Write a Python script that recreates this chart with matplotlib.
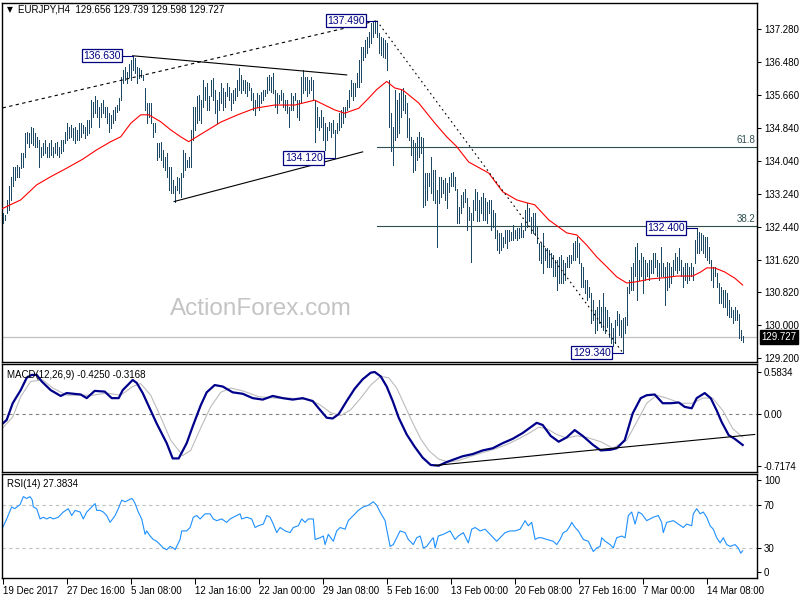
import matplotlib
matplotlib.use('Agg')
import matplotlib.pyplot as plt
import matplotlib.transforms as mtransforms
import numpy as np

plt.rcParams['font.family'] = ['Liberation Sans', 'DejaVu Sans']

# -- datos: EURJPY H4 (maximos y minimos por barra)
highs = [
    132.76, 132.72, 133.09, 133.42, 133.66, 133.91, 133.91, 133.95, 133.91, 134.23,
    134.23, 134.73, 134.77, 134.73, 134.89, 134.85, 134.73, 134.64, 134.56, 134.40,
    134.48, 134.56, 134.40, 134.48, 134.56, 134.40, 134.48, 134.52, 134.40, 134.56,
    134.56, 134.77, 134.97, 134.89, 134.93, 134.85, 134.89, 134.81, 134.97, 134.97,
    134.93, 134.89, 135.05, 135.05, 135.54, 135.50, 135.63, 135.54, 135.38, 135.46,
    135.54, 135.38, 135.38, 135.22, 135.18, 135.30, 135.38, 135.42, 135.59, 136.12,
    136.28, 136.36, 136.24, 136.44, 136.53, 136.63, 136.57, 136.36, 136.32, 136.28,
    136.16, 135.83, 135.46, 135.46, 135.46, 134.97, 134.97, 134.48, 134.48, 134.52,
    134.32, 134.15, 134.23, 133.91, 133.91, 133.58, 133.42, 133.66, 133.62, 133.74,
    134.32, 134.23, 134.07, 134.15, 134.81, 135.38, 135.38, 135.63, 135.67, 135.54,
    136.04, 135.87, 135.95, 135.63, 136.04, 136.08, 135.79, 135.54, 135.75, 135.95,
    135.83, 135.75, 135.95, 135.87, 135.71, 135.79, 135.83, 136.04, 136.32, 136.16,
    136.04, 136.04, 135.99, 135.95, 135.83, 135.71, 135.54, 135.71, 135.67, 135.75,
    135.79, 135.79, 136.12, 136.16, 136.12, 136.20, 135.79, 135.71, 135.67, 135.79,
    135.71, 135.54, 135.54, 135.38, 135.71, 135.63, 135.71, 135.54, 135.54, 136.12,
    136.28, 136.12, 136.12, 136.04, 136.12, 136.04, 135.54, 135.38, 135.13, 135.30,
    135.13, 134.97, 134.89, 135.01, 134.97, 135.05, 134.81, 134.97, 135.22, 135.30,
    135.38, 135.38, 135.54, 135.79, 136.04, 135.95, 135.95, 136.20, 136.53, 136.85,
    136.85, 137.02, 137.10, 137.22, 137.43, 137.45, 137.47, 137.49, 137.18, 137.10,
    137.06, 137.02, 136.94, 136.04, 135.22, 134.89, 135.79, 135.54, 135.71, 135.79,
    135.83, 135.67, 135.46, 135.09, 134.64, 134.56, 134.48, 134.64, 134.77, 134.64,
    134.60, 133.74, 133.74, 133.74, 134.15, 133.83, 133.83, 133.33, 133.66, 133.66,
    133.58, 133.62, 133.50, 133.66, 133.74, 133.78, 133.66, 133.37, 132.92, 133.21,
    133.29, 133.37, 133.13, 132.92, 132.76, 133.09, 133.37, 133.29, 133.09, 133.17,
    133.25, 133.13, 133.05, 133.09, 133.09, 132.84, 132.76, 132.35, 132.27, 132.27,
    132.19, 132.35, 132.35, 132.35, 132.31, 132.47, 132.35, 132.39, 132.39, 132.52,
    132.35, 132.84, 133.01, 132.88, 132.68, 132.76, 132.76, 132.43, 132.02, 132.02,
    132.27, 131.90, 131.90, 131.86, 131.78, 131.74, 131.61, 131.61, 131.70, 131.74,
    131.61, 131.53, 131.70, 131.74, 131.74, 132.02, 132.07, 132.19, 132.02, 131.53,
    131.45, 131.12, 131.12, 130.96, 130.80, 130.63, 130.39, 130.47, 130.63, 130.47,
    130.80, 130.47, 130.39, 130.22, 130.06, 129.94, 130.14, 130.35, 130.30, 130.14,
    130.18, 130.22, 130.96, 131.12, 131.45, 131.53, 131.94, 132.02, 131.61, 131.78,
    131.70, 131.61, 131.53, 131.61, 131.61, 131.78, 131.78, 131.61, 131.53, 131.94,
    131.53, 131.45, 131.57, 131.53, 131.45, 131.61, 131.78, 131.70, 131.90, 131.61,
    131.45, 131.53, 131.53, 131.45, 131.53, 131.45, 132.11, 132.40, 132.31, 132.27,
    132.23, 132.19, 132.19, 131.94, 131.61, 131.45, 131.45, 131.29, 131.04, 130.96,
    130.88, 130.88, 130.80, 130.63, 130.47, 130.39, 130.47, 130.39, 130.30, 129.90, 129.739,
]
lows = [
    132.53, 132.60, 132.76, 132.84, 133.09, 133.42, 133.58, 133.66, 133.66, 133.87,
    133.91, 134.15, 134.48, 134.40, 134.48, 134.44, 134.40, 134.40, 133.91, 134.15,
    134.19, 134.23, 134.15, 134.15, 134.19, 134.15, 134.23, 134.19, 134.15, 134.23,
    134.28, 134.48, 134.56, 134.60, 134.64, 134.56, 134.48, 134.56, 134.56, 134.64,
    134.73, 134.60, 134.68, 134.73, 134.89, 135.13, 135.22, 135.13, 134.89, 135.13,
    135.22, 135.13, 134.97, 134.77, 134.85, 134.97, 135.05, 135.26, 135.30, 135.54,
    135.95, 136.04, 135.95, 136.12, 136.04, 136.28, 136.20, 135.95, 136.08, 136.12,
    136.04, 135.30, 134.97, 135.13, 134.97, 134.64, 134.77, 134.07, 134.15, 134.07,
    133.91, 133.83, 133.66, 133.33, 133.25, 133.25, 133.05, 133.33, 133.25, 133.17,
    133.66, 133.83, 133.91, 133.91, 133.91, 134.56, 134.81, 134.97, 135.05, 134.97,
    135.38, 135.54, 135.30, 135.30, 135.63, 135.54, 135.22, 134.97, 135.30, 135.46,
    135.30, 135.38, 135.63, 135.54, 135.30, 135.46, 135.54, 135.63, 135.79, 135.71,
    135.79, 135.71, 135.63, 135.79, 135.54, 135.30, 135.18, 135.38, 135.30, 135.46,
    135.54, 135.63, 135.71, 135.79, 135.75, 135.71, 135.38, 135.22, 135.46, 135.54,
    135.38, 135.30, 135.22, 134.89, 135.30, 135.30, 135.54, 135.13, 135.05, 135.46,
    135.71, 135.79, 135.63, 135.71, 135.79, 135.54, 134.52, 134.89, 134.81, 134.89,
    134.56, 134.32, 134.56, 134.81, 134.64, 134.73, 134.12, 134.73, 134.81, 134.89,
    134.97, 135.13, 135.30, 135.38, 135.63, 135.54, 135.63, 135.87, 135.87, 135.99,
    136.53, 136.61, 136.69, 136.85, 136.94, 137.10, 137.18, 137.10, 136.69, 136.65,
    136.61, 136.57, 136.28, 134.89, 134.28, 133.95, 134.56, 134.64, 134.73, 135.13,
    135.30, 135.22, 134.64, 134.56, 134.19, 133.78, 133.83, 134.07, 134.15, 134.23,
    132.92, 132.97, 133.09, 133.42, 133.25, 133.09, 133.01, 131.94, 133.01, 133.17,
    133.25, 133.09, 132.88, 133.29, 133.42, 133.42, 133.33, 132.52, 132.52, 132.76,
    132.92, 133.05, 132.35, 132.60, 131.57, 132.60, 132.84, 132.56, 132.56, 132.76,
    132.60, 132.60, 132.52, 132.76, 132.35, 132.43, 132.15, 131.86, 131.78, 131.86,
    131.94, 132.02, 131.90, 132.07, 132.11, 132.11, 132.15, 132.11, 132.15, 132.19,
    132.19, 132.35, 132.43, 132.56, 132.27, 132.27, 132.23, 132.02, 131.61, 131.53,
    131.29, 131.61, 131.45, 131.45, 131.45, 131.21, 131.21, 130.88, 131.04, 131.04,
    131.04, 131.12, 131.45, 131.45, 131.53, 131.61, 131.61, 131.70, 131.53, 130.96,
    130.96, 130.80, 130.63, 130.71, 130.06, 130.14, 129.81, 129.90, 130.06, 129.98,
    129.90, 129.81, 129.98, 129.73, 129.57, 129.49, 129.57, 130.02, 129.77, 129.73,
    129.34, 129.81, 130.02, 130.80, 130.88, 130.88, 131.21, 130.63, 131.12, 131.21,
    130.80, 131.12, 131.21, 131.12, 131.29, 131.29, 131.45, 131.21, 131.12, 131.21,
    131.21, 130.51, 130.88, 130.96, 131.04, 131.21, 131.37, 131.29, 131.37, 131.21,
    130.96, 131.12, 131.04, 131.12, 131.21, 131.12, 131.53, 131.78, 131.78, 131.86,
    131.78, 131.70, 131.61, 131.53, 131.12, 130.96, 131.21, 130.96, 130.55, 130.55,
    130.47, 130.47, 130.26, 130.22, 130.22, 130.06, 130.14, 130.14, 129.69, 129.65, 129.598,
]

# media movil (rojo), puntos leidos (barra, precio)
ma_x = [0, 9, 17, 24, 32, 40, 47, 54, 59, 64, 69, 73, 79, 84, 89, 93, 101, 109, 117,
        126, 136, 146, 156, 161, 166, 171, 178, 183, 187, 192, 196, 200, 208, 216, 222,
        227, 233, 243, 250, 257, 262, 266, 273, 282, 287, 292, 297, 302, 307, 312, 317,
        324, 331, 337, 345, 349, 352, 356, 361, 366, 370]
ma_y = [132.88, 133.09, 133.46, 133.66, 133.87, 134.09, 134.32, 134.52, 134.64, 134.97,
        135.18, 135.18, 135.01, 134.81, 134.64, 134.52, 134.76, 135.00, 135.17, 135.34,
        135.42, 135.42, 135.54, 135.42, 135.30, 135.22, 135.34, 135.59, 135.80, 136.00,
        135.84, 135.79, 135.47, 134.98, 134.64, 134.40, 134.02, 133.75, 133.29, 133.09,
        133.02, 132.97, 132.60, 132.28, 132.23, 131.98, 131.69, 131.45, 131.20, 131.05,
        131.08, 131.15, 131.18, 131.22, 131.22, 131.32, 131.42, 131.42, 131.32, 131.17,
        131.00]

# MACD(12,26,9)
macd_x = [0, 2, 5, 9, 12, 14.5, 17, 19.5, 24, 29, 32, 39, 42, 46, 51, 54.5, 58, 60, 65,
          67, 70, 74, 77, 82, 85, 88, 92, 95, 99, 102, 106, 110, 115, 120, 125, 130, 135,
          140, 145, 150, 155, 158, 162, 165, 168, 172, 176, 180, 184, 186, 189, 192, 195,
          198, 202, 206, 210, 214, 218, 222, 226, 230, 235, 240, 245, 250, 255, 260, 264,
          267, 270, 274, 278, 282, 286, 290, 295, 299, 304, 307, 311, 315, 319, 322, 326,
          330, 334, 338, 341, 344.5, 347, 351, 354, 357, 359.5, 363, 366, 370]
macd_y = [-0.13, -0.08, 0.15, 0.33, 0.50, 0.54, 0.54, 0.45, 0.33, 0.25, 0.29, 0.27, 0.22,
          0.32, 0.31, 0.22, 0.22, 0.33, 0.47, 0.43, 0.29, 0.05, -0.13, -0.40, -0.61, -0.61,
          -0.40, -0.17, 0.12, 0.30, 0.40, 0.38, 0.30, 0.28, 0.22, 0.20, 0.25, 0.22, 0.20,
          0.22, 0.18, 0.08, -0.05, -0.06, 0.00, 0.18, 0.35, 0.48, 0.57, 0.58, 0.52, 0.38,
          0.18, -0.05, -0.28, -0.45, -0.60, -0.70, -0.71, -0.66, -0.62, -0.58, -0.55, -0.50,
          -0.47, -0.40, -0.34, -0.26, -0.18, -0.12, -0.15, -0.30, -0.38, -0.32, -0.22,
          -0.30, -0.42, -0.50, -0.49, -0.47, -0.36, 0.01, 0.22, 0.26, 0.27, 0.15, 0.15,
          0.16, 0.10, 0.08, 0.22, 0.29, 0.22, 0.05, -0.11, -0.29, -0.34, -0.425]
signal_x = [0, 5, 9, 14, 20, 25, 32, 45, 52, 59, 65, 69, 74, 79, 84, 90, 94, 99, 104, 109,
            114, 120, 128, 136, 144, 152, 158, 164, 169, 174, 179, 184, 189, 193, 197, 201,
            205, 209, 213, 218, 223, 228, 234, 240, 246, 252, 258, 264, 268, 272, 277, 282,
            287, 292, 299, 305, 312, 317, 322, 327, 332, 339, 345, 350, 355, 360, 365, 370]
signal_y = [-0.19, -0.04, 0.24, 0.45, 0.47, 0.36, 0.26, 0.26, 0.29, 0.26, 0.38, 0.42, 0.26,
            -0.04, -0.36, -0.57, -0.50, -0.19, 0.10, 0.30, 0.36, 0.32, 0.24, 0.22, 0.22,
            0.20, 0.14, 0.02, -0.02, 0.06, 0.22, 0.40, 0.52, 0.50, 0.36, 0.12, -0.12, -0.34,
            -0.50, -0.62, -0.66, -0.64, -0.58, -0.53, -0.48, -0.42, -0.34, -0.25, -0.18,
            -0.20, -0.28, -0.33, -0.30, -0.32, -0.38, -0.47, -0.36, -0.11, 0.15, 0.26, 0.22,
            0.15, 0.15, 0.22, 0.22, 0.05, -0.20, -0.3168]

# RSI(14)
rsi_x = [0, 2, 4.5, 6, 8.7, 10.3, 12, 13.7, 14.8, 15.3, 17, 18.7, 20.3, 22, 23.7, 25.3,
         27.8, 30.3, 32.8, 34.5, 36.2, 38.7, 40.3, 42, 43.7, 46.2, 47, 48.7, 50.3, 52,
         53.7, 56.2, 57.8, 59.5, 61.2, 62.8, 64.5, 65.3, 66.2, 67.8, 69.5, 71.2, 72, 73.7,
         75.3, 77, 78.7, 80.3, 82, 83.7, 85.3, 86.2, 87, 88.7, 89.5, 92, 93.7, 95.3, 97,
         98.7, 101.2, 103.7, 105.3, 107, 109.5, 112, 113.7, 115.3, 118.7, 119.5, 122,
         124.5, 126.2, 127.8, 130.3, 132, 133.7, 135.3, 137, 138.7, 141.2, 143.7, 145.3,
         147.8, 149.5, 151.2, 152.8, 155.3, 156.2, 158.7, 160.3, 161.2, 162.8, 165.3, 167,
         168.7, 171.2, 172.8, 175.3, 177.8, 180.3, 182.8, 185.3, 187, 188.7, 191.2, 192,
         193.7, 195.3, 197, 198.7, 201.2, 202.8, 205.3, 207, 208.7, 209.5, 210.3, 212,
         214.5, 215.3, 216.2, 217.8, 220.3, 223.7, 226.2, 227.8, 230.3, 232.8, 234.5,
         236.2, 238.7, 241.2, 244.5, 247, 248.7, 251.2, 253.7, 256.2, 258.7, 261.2, 262.8,
         264.5, 266.2, 267.8, 269.5, 272, 275.3, 277, 278.7, 280.3, 282, 283.7, 284.5,
         286.2, 287.8, 290.3, 292.8, 295.3, 297, 298.7, 299.5, 301.2, 303.7, 305.3, 307,
         309.5, 311.2, 312.8, 314.5, 316.2, 317.8, 319.5, 322, 325.3, 327.8, 329.5, 330.3,
         332, 335.3, 337.8, 340.3, 342, 344.5, 345.3, 347, 348.7, 350.3, 352, 353.7, 355.3,
         357, 358.7, 360.3, 362, 363.7, 366.2, 367.8, 369, 370]
rsi_y = [49.2, 57.2, 68.5, 66.8, 70.7, 78.1, 76.4, 78.1, 74.8, 68.5, 66.8, 57.2, 58.8,
         57.2, 58.8, 57.2, 58.8, 63.7, 66.8, 60.4, 65.2, 63.7, 57.2, 63.7, 66.8, 71.6, 65.2,
         65.2, 63.7, 60.4, 54.0, 60.4, 66.8, 74.8, 73.3, 74.8, 76.4, 74.8, 71.6, 63.7, 57.2,
         42.8, 46.0, 41.2, 38.0, 36.3, 33.2, 30.0, 28.4, 31.5, 30.0, 28.4, 31.5, 38.0, 46.0,
         46.0, 49.2, 58.8, 60.4, 57.2, 62.0, 62.0, 57.2, 55.6, 57.2, 54.0, 57.2, 58.8, 62.0,
         57.2, 58.8, 57.2, 49.2, 50.8, 52.4, 60.4, 58.8, 52.4, 44.4, 49.2, 46.0, 44.4, 49.2,
         50.8, 57.2, 54.0, 57.2, 57.2, 38.0, 39.6, 41.2, 33.2, 42.8, 36.3, 46.0, 49.2, 47.6,
         55.6, 60.4, 65.2, 68.5, 70.0, 73.3, 70.0, 63.7, 55.6, 47.6, 31.5, 33.2, 39.6, 46.0,
         44.4, 38.0, 33.2, 39.6, 41.2, 36.3, 30.0, 31.5, 38.0, 39.6, 30.0, 41.2, 42.8, 46.0,
         38.0, 41.2, 44.4, 34.8, 47.6, 49.2, 46.0, 47.6, 41.2, 36.3, 39.6, 44.4, 46.0, 46.0,
         47.6, 55.6, 50.8, 54.0, 38.0, 39.6, 39.6, 38.0, 36.3, 33.2, 38.0, 44.4, 46.0, 50.8,
         54.0, 49.2, 46.0, 38.0, 36.3, 26.7, 30.0, 31.5, 39.6, 36.3, 33.2, 30.0, 39.6, 41.2,
         39.6, 60.4, 63.7, 52.4, 63.7, 62.0, 55.6, 58.8, 60.4, 54.0, 44.4, 54.0, 55.6, 52.4,
         49.2, 52.4, 50.8, 62.0, 66.8, 62.0, 63.7, 58.8, 50.8, 47.6, 39.6, 34.8, 39.6, 33.2,
         31.5, 33.2, 30.0, 25.2, 27.38]

# etiquetas de tiempo (cada 32 barras H4)
date_labels = ['19 Dec 2017', '27 Dec 16:00', '5 Jan 08:00', '12 Jan 16:00', '22 Jan 00:00',
               '29 Jan 08:00', '5 Feb 16:00', '13 Feb 00:00', '20 Feb 08:00', '27 Feb 16:00',
               '7 Mar 00:00', '14 Mar 08:00']
date_bars = [0, 32, 64, 96, 128, 160, 192, 224, 256, 288, 320, 352]
price_labels = ['137.280', '136.480', '135.660', '134.840', '134.040', '133.240',
                '132.440', '131.620', '130.820', '130.000', '129.200']

# puntos de swing (barra, precio) y niveles fibo
swings = [(65, 136.630), (187, 137.490), (166, 134.120), (310, 129.340), (347, 132.400)]
fib_levels = [(134.38, '61.8'), (132.45, '38.2')]
last_price = 129.727

BAR = '#1d4864'
FS = 7
xl = (-0.35, 377.15)

fig = plt.figure(figsize=(8, 6), dpi=100)
ax = fig.add_axes([2 / 800, 1 - 362 / 600, 755 / 800, 359 / 600])
ax_m = fig.add_axes([2 / 800, 1 - 472 / 600, 755 / 800, 108 / 600])
ax_r = fig.add_axes([2 / 800, 1 - 578 / 600, 755 / 800, 104 / 600])

for a in (ax, ax_m, ax_r):
    a.set_xlim(*xl)
    a.yaxis.tick_right()
    a.tick_params(axis='y', length=3, width=0.75, labelsize=FS, pad=2, colors='black')
    for s in a.spines.values():
        s.set_linewidth(1.0)
        s.set_color('black')
    a.set_xticks([])

# -- panel de precios
idx = np.arange(len(highs))
ax.set_ylim(129.109, 137.926)
ax.text(0.343, 0.148, 'ActionForex.com', transform=ax.transAxes, fontsize=17.5,
        color='#c4c4c4', ha='center', va='center', zorder=0)
ax.axhline(last_price, color='#c0c0c0', lw=0.9, zorder=1)
ax.vlines(idx, lows, highs, color=BAR, lw=0.5, antialiased=False, zorder=3)
ax.plot(ma_x, ma_y, color='#ff0000', lw=0.8, zorder=4)

# lineas de tendencia
ax.plot([0, 187], [135.35, 137.49], color='black', lw=0.8, ls=(0, (3, 3)), zorder=5)
ax.plot([187, 310], [137.49, 129.34], color='black', lw=0.8, ls=(0, (1.5, 3)), zorder=5)
ax.plot([65, 172], [136.63, 136.16], color='black', lw=0.8, zorder=5)
ax.plot([85.7, 180], [133.05, 134.27], color='black', lw=0.8, zorder=5)

# fibonacci
for lvl, txt in fib_levels:
    ax.plot([187, xl[1]], [lvl, lvl], color='#2f4f4f', lw=0.8, zorder=2)
    ax.text(xl[1] - 1, lvl + 0.05, txt, ha='right', va='bottom', fontsize=FS,
            color='#2f4f4f')

for b, p in swings:
    ax.plot([b - 5, b], [p, p], color='#000080', lw=0.8, zorder=5)
    ax.text(b - 6, p, '%.3f' % p, ha='right', va='center', fontsize=7.5, color='#000080',
            zorder=6, bbox=dict(boxstyle='square,pad=0.15', fc='white', ec='#000080', lw=0.9))

ax.set_yticks(np.linspace(137.28, 129.20, 11))
ax.set_yticklabels(price_labels)
tr = mtransforms.blended_transform_factory(ax.transAxes, ax.transData)
ax.text(1.006, last_price, '%.3f' % last_price, transform=tr, fontsize=FS, color='white',
        ha='left', va='center', clip_on=False,
        bbox=dict(boxstyle='square,pad=0.2', fc='black', ec='black'))
ax.text(0.007, 0.982, '\u25bc', transform=ax.transAxes, fontsize=5.5, va='center',
        family=['DejaVu Sans'])
ax.text(0.021, 0.982, 'EURJPY,H4  129.656 129.739 129.598 129.727', transform=ax.transAxes,
        fontsize=FS, va='center')

# -- panel MACD
ax_m.set_ylim(-0.797, 0.690)
ax_m.axhline(0, color='#808080', lw=0.8, ls=(0, (3, 3)))
ax_m.plot(signal_x, signal_y, color='#bcbcbc', lw=0.8)
ax_m.plot(macd_x, macd_y, color='#00008b', lw=1.6)
ax_m.plot([216, 376], [-0.707, -0.28], color='black', lw=0.8)
ax_m.set_yticks([0.5834, 0.0, -0.7174])
ax_m.set_yticklabels(['0.5834', '0.00', '-0.7174'])
ax_m.text(0.007, 0.9, 'MACD(12,26,9) -0.4250 -0.3168', transform=ax_m.transAxes,
          fontsize=FS, va='center')

# -- panel RSI
ax_r.set_ylim(1.9, 99.3)
for lvl in (70, 30):
    ax_r.axhline(lvl, color='#c0c0c0', lw=0.8, ls=(0, (3, 3)))
ax_r.plot(rsi_x, rsi_y, color='#1e90ff', lw=0.8)
ax_r.set_yticks([93.3, 70, 30, 7.9])
ax_r.set_yticklabels(['100', '70', '30', '0'])
ax_r.text(0.007, 0.9, 'RSI(14) 27.3834', transform=ax_r.transAxes, fontsize=FS, va='center')

ax_r.set_xticks(date_bars)
ax_r.set_xticklabels(date_labels, fontsize=FS)
ax_r.tick_params(axis='x', length=4, width=0.75, pad=2)
for lab in ax_r.get_xticklabels():
    lab.set_ha('left')

fig.savefig('out.png', dpi=100, facecolor='white')
